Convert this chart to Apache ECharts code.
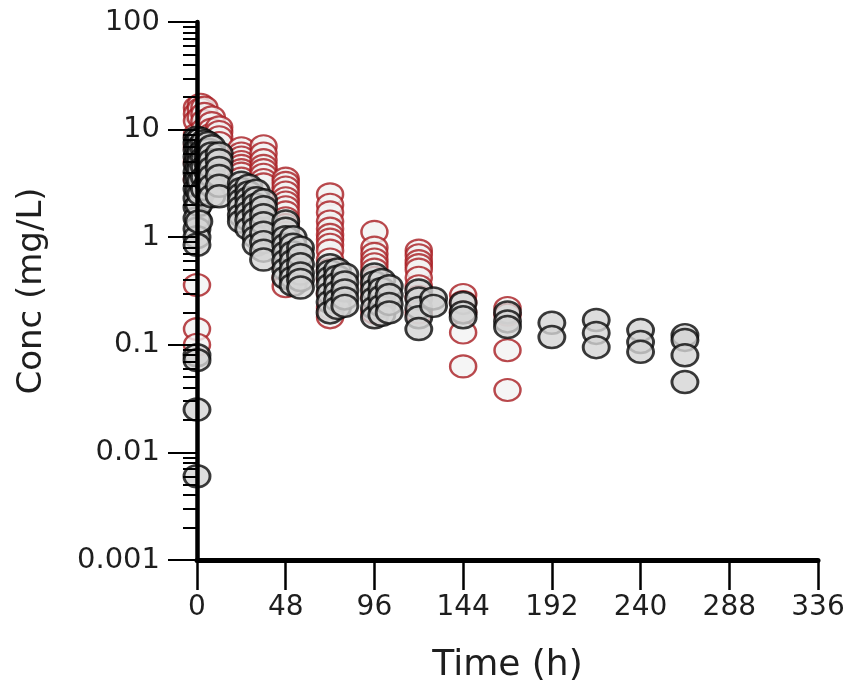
<!DOCTYPE html>
<html>
<head>
<meta charset="utf-8">
<script src="https://cdn.jsdelivr.net/npm/echarts@6/dist/echarts.min.js"></script>
<style>
  html, body { margin: 0; padding: 0; background: #fff; }
  #chart { width: 851px; height: 695px; }
</style>
</head>
<body>
<div id="chart"></div>
<script>
// tick labels
const xTicks = [0, 48, 96, 144, 192, 240, 288, 336]
const yTickLabels = ['0.001', '0.01', '0.1', '1', '10', '100']

// red open circles: sampling times and concentrations (mg/L) read per time column
const redTimes = [0, 2, 4, 8, 12, 24, 36, 48, 72, 96, 120, 144, 168]
const redConc = [
  [16, 14, 12, 9, 7, 5, 3.5, 0.36, 0.14, 0.1],
  [17, 15.5, 13],
  [16, 14, 12, 10],
  [13, 11.5, 10, 9],
  [10.5, 9.5, 8.5, 7.5],
  [6.7, 6.0, 5.5, 5.0, 4.6, 4.2, 3.9, 3.5],
  [7.0, 6.0, 5.2, 4.6, 4.2, 3.8, 3.4, 3.1],
  [3.5, 3.2, 2.9, 2.6, 2.3, 2.1, 1.9, 1.7, 1.5, 1.3, 1.1, 0.9, 0.7, 0.55, 0.42, 0.35],
  [2.5, 2.0, 1.7, 1.4, 1.2, 1.05, 0.95, 0.85, 0.75, 0.62, 0.5, 0.4, 0.3, 0.22, 0.18],
  [1.12, 0.8, 0.7, 0.62, 0.56, 0.5, 0.42, 0.35, 0.28, 0.2],
  [0.75, 0.68, 0.6, 0.55, 0.5, 0.42, 0.35, 0.28, 0.2],
  [0.29, 0.25, 0.2, 0.13, 0.063],
  [0.22, 0.19, 0.089, 0.038]
]

// grey filled circles
const greyTimes = [0, 1, 2, 4, 6, 8, 12, 24, 28, 32, 36, 48, 52, 56, 72, 76, 80, 96, 100, 104, 120, 128, 144, 168, 192, 216, 240, 264]
const greyConc = [
  [8.4, 7.5, 6.5, 5.6, 4.8, 4.0, 3.4, 2.8, 2.3, 1.9, 1.5, 1.2, 1.0, 0.85, 0.08, 0.072, 0.025, 0.006],
  [8, 6.8, 5.5, 4.5, 3.6, 2.7, 2.0, 1.4],
  [8.2, 7.0, 6.0, 5.0, 4.2, 3.3, 2.5],
  [7.8, 6.5, 5.5, 4.5, 3.6, 2.8],
  [7.5, 6.5, 5.6, 4.8, 4.0, 3.2],
  [7.0, 6.0, 5.2, 4.4, 3.7, 3.0, 2.4],
  [6.0, 5.2, 4.4, 3.7, 3.0, 2.4],
  [3.2, 2.8, 2.5, 2.2, 1.9, 1.6, 1.4],
  [3.0, 2.6, 2.3, 2.0, 1.7, 1.45, 1.2],
  [2.7, 2.3, 2.0, 1.7, 1.45, 1.2, 1.0, 0.85],
  [2.2, 1.9, 1.6, 1.35, 1.1, 0.9, 0.75, 0.62],
  [1.4, 1.2, 1.0, 0.85, 0.72, 0.6, 0.5, 0.42],
  [1.0, 0.85, 0.72, 0.6, 0.5, 0.42, 0.36],
  [0.8, 0.68, 0.56, 0.46, 0.4, 0.34],
  [0.55, 0.48, 0.42, 0.36, 0.3, 0.25, 0.2],
  [0.5, 0.43, 0.37, 0.31, 0.26, 0.22],
  [0.45, 0.38, 0.32, 0.27, 0.23],
  [0.45, 0.38, 0.32, 0.27, 0.22, 0.18],
  [0.4, 0.33, 0.28, 0.23, 0.19],
  [0.35, 0.29, 0.24, 0.2],
  [0.32, 0.27, 0.22, 0.18, 0.14],
  [0.27, 0.23],
  [0.245, 0.2, 0.18],
  [0.2, 0.165, 0.146],
  [0.16, 0.118],
  [0.17, 0.129, 0.095],
  [0.137, 0.106, 0.086],
  [0.123, 0.111, 0.08, 0.045]
]

const toPoints = (times, conc) => {
  let pts = []
  times.forEach((t, i) => conc[i].forEach(c => pts.push([t, c])))
  return pts
}

// log minor ticks 2..9 in every decade
let minorTicks = []
for (let e = -3; e < 2; e++) {
  for (let m = 2; m <= 9; m++) minorTicks.push(+(m * Math.pow(10, e)).toPrecision(3))
}

const font = '"DejaVu Sans", "Open Sans", sans-serif'
const textColor = '#1e1e1e'

let chart = echarts.init(document.getElementById('chart'))

let option = {
  backgroundColor: '#fff',
  animation: false,
  grid: { left: 197, right: 33, top: 22, bottom: 135 },
  xAxis: {
    type: 'value',
    min: 0,
    max: 336,
    interval: 48,
    name: 'Time (h)',
    nameLocation: 'middle',
    nameGap: 88,
    nameTextStyle: { fontFamily: font, fontSize: 36, color: textColor },
    axisLine: { show: true, onZero: false, lineStyle: { color: '#000', width: 5 } },
    axisTick: { show: true, length: 30, lineStyle: { color: '#000', width: 2.5 } },
    axisLabel: { fontFamily: font, fontSize: 28, color: textColor, margin: 34 },
    splitLine: { show: false },
  },
  yAxis: [
    {
      type: 'log',
      logBase: 10,
      min: 0.001,
      max: 100,
      z: 5,
      name: 'Conc (mg/L)',
      nameLocation: 'middle',
      nameRotate: 90,
      nameGap: 148,
      nameTextStyle: { fontFamily: font, fontSize: 34, color: textColor },
      axisLine: { show: true, lineStyle: { color: '#000', width: 4.5 } },
      axisTick: { show: true, length: 29, lineStyle: { color: '#000', width: 2 } },
      axisLabel: {
        fontFamily: font, fontSize: 29, color: textColor, margin: 37,
        formatter: v => yTickLabels[Math.round(Math.log10(v)) + 3],
      },
      splitLine: { show: false },
    },
    {
      type: 'log',
      logBase: 10,
      min: 0.001,
      max: 100,
      position: 'left',
      z: 5,
      axisLine: { show: false },
      axisTick: { show: true, length: 14, customValues: minorTicks, lineStyle: { color: '#000', width: 2 } },
      axisLabel: { show: false },
      splitLine: { show: false },
    },
  ],
  series: [
    {
      type: 'scatter',
      clip: false,
      symbol: 'circle',
      symbolSize: [26, 22],
      itemStyle: { color: '#f3f3f3', borderColor: '#a81c20', borderWidth: 2.3 },
      data: toPoints(redTimes, redConc),
    },
    {
      type: 'scatter',
      clip: false,
      symbol: 'circle',
      symbolSize: [26, 22],
      itemStyle: { color: '#d4d4d4', borderColor: '#0a0a0a', borderWidth: 2.7 },
      data: toPoints(greyTimes, greyConc),
    },
  ],
}

chart.setOption(option)
</script>
</body>
</html>
